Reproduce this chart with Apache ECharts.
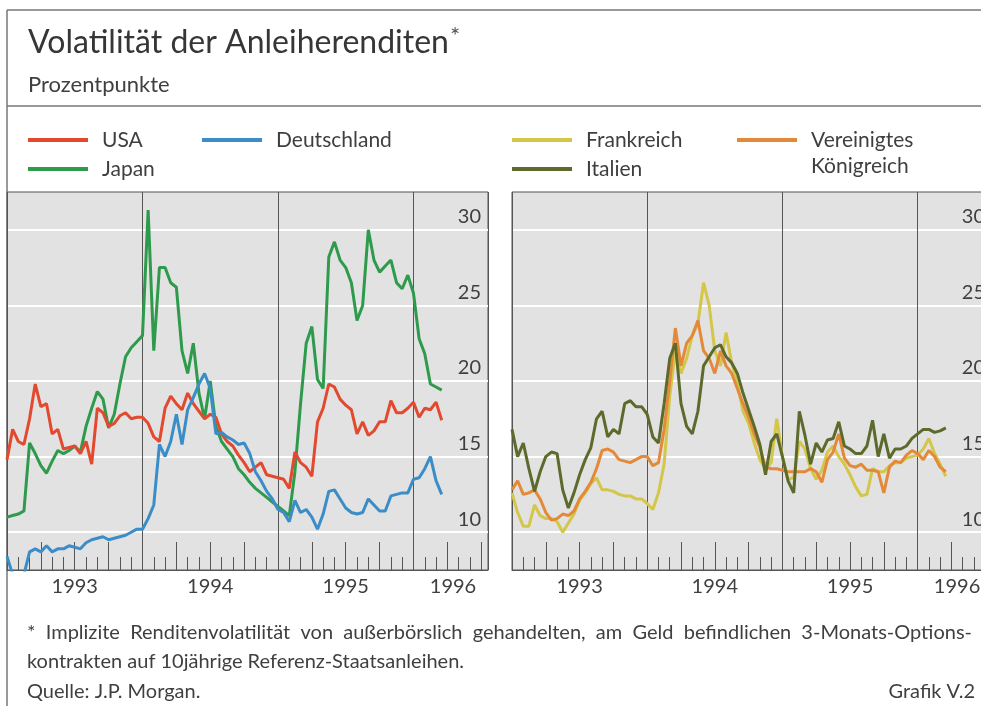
<!DOCTYPE html>
<html>
<head>
<meta charset="utf-8">
<title>Volatilität der Anleiherenditen</title>
<script src="https://cdn.jsdelivr.net/npm/echarts@6/dist/echarts.min.js"></script>
<style>
html, body { margin: 0; padding: 0; background: #fff; }
#chart { width: 981px; height: 706px; }
</style>
</head>
<body>
<div id="chart"></div>
<script>
// x: months since Jan 1993, half-month steps
const steps = [];
for (let i = 0; i < 78; i++) steps.push(i / 2);

const yearLabels = ["1993", "1994", "1995", "1996"];
const yearLabelPos = [6, 18, 30, 39.5];
const yTicks = [10, 15, 20, 25, 30];

// left panel
const usa = [
  14.8, 16.8, 16.0, 15.8, 17.5, 19.8, 18.3, 18.5, 16.5, 16.8,
  15.5, 15.6, 15.7, 15.2, 16.0, 14.5, 18.2, 17.9, 17.0, 17.2,
  17.7, 17.9, 17.5, 17.6, 17.6, 17.2, 16.3, 16.0, 18.2, 19.0,
  18.5, 18.1, 19.2, 18.5, 18.0, 17.5, 17.8, 17.6, 16.5, 16.0,
  15.7, 15.1, 14.6, 14.0, 14.3, 14.6, 13.8, 13.7, 13.6, 13.5,
  12.9, 15.3, 14.6, 14.3, 13.7, 17.3, 18.2, 19.8, 19.6, 18.8,
  18.4, 18.1, 16.5, 17.3, 16.4, 16.7, 17.3, 17.3, 18.7, 17.9,
  17.9, 18.2, 18.6, 17.6, 18.2, 18.1, 18.6, 17.4
];
const deutschland = [
  8.4, 7.2, 7.0, 7.2, 8.7, 8.9, 8.7, 9.1, 8.7, 8.9,
  8.9, 9.1, 9.0, 8.9, 9.3, 9.5, 9.6, 9.7, 9.5, 9.6,
  9.7, 9.8, 10.0, 10.2, 10.2, 10.9, 11.8, 15.8, 15.0, 16.0,
  17.8, 15.8, 18.1, 18.9, 19.8, 20.5, 19.5, 16.5, 16.6, 16.3,
  16.1, 15.8, 15.9, 15.2, 14.0, 13.4, 12.7, 12.2, 11.5, 11.3,
  10.7, 12.1, 11.3, 11.5, 11.0, 10.2, 11.2, 12.7, 12.8, 12.2,
  11.6, 11.3, 11.2, 11.3, 12.2, 11.8, 11.4, 11.4, 12.4, 12.5,
  12.6, 12.6, 13.5, 13.6, 14.2, 15.0, 13.4, 12.5
];
const japan = [
  11.0, 11.1, 11.2, 11.4, 15.9, 15.2, 14.4, 13.9, 14.7, 15.4,
  15.2, 15.4, 15.7, 15.3, 17.0, 18.2, 19.3, 18.8, 16.9, 17.8,
  19.8, 21.6, 22.2, 22.6, 23.0, 31.3, 22.0, 27.5, 27.5, 26.5,
  26.2, 22.0, 20.5, 22.5, 19.2, 17.5, 20.0, 17.0, 16.0, 15.5,
  15.0, 14.2, 13.8, 13.3, 12.9, 12.6, 12.3, 12.0, 11.7, 11.4,
  11.1, 14.0, 18.5, 22.5, 23.6, 20.1, 19.5, 28.2, 29.2, 28.0,
  27.5, 26.5, 24.0, 25.0, 30.0, 28.0, 27.2, 27.6, 28.0, 26.5,
  26.1, 27.0, 25.8, 22.8, 21.8, 19.8, 19.6, 19.4
];

// right panel
const frankreich = [
  12.6, 11.3, 10.4, 10.4, 11.8, 11.1, 10.9, 10.9, 10.7, 10.0,
  10.6, 11.2, 12.1, 12.6, 13.2, 13.6, 12.8, 12.8, 12.7, 12.5,
  12.4, 12.4, 12.2, 12.2, 11.9, 11.5, 12.6, 14.5, 19.0, 22.0,
  20.5, 21.5, 23.0, 23.8, 26.5, 25.0, 22.0, 21.0, 23.2, 21.2,
  19.8, 18.0, 17.2, 15.9, 14.8, 14.2, 14.6, 17.5, 15.0, 13.5,
  13.6, 16.0, 15.5, 14.2, 13.5, 14.1, 15.3, 15.7, 15.0, 14.5,
  13.8, 13.0, 12.4, 12.5, 14.2, 14.0, 14.0, 14.4, 14.6, 14.6,
  14.9, 15.0, 15.1, 15.5, 16.2, 15.2, 14.5, 13.7
];
const vereinigtesKoenigreich = [
  12.8, 13.4, 12.5, 12.6, 12.8, 12.2, 11.3, 10.8, 10.9, 11.2,
  11.1, 11.4, 12.2, 12.7, 13.3, 14.2, 15.4, 15.5, 15.3, 14.8,
  14.7, 14.6, 14.8, 15.0, 15.0, 14.4, 14.6, 16.8, 20.0, 23.5,
  21.0, 22.5, 23.0, 24.0, 22.0, 21.5, 20.5, 22.0, 21.0, 20.5,
  19.5, 18.5, 17.6, 16.5, 15.6, 14.3, 14.2, 14.2, 14.1, 14.0,
  14.0, 14.0, 14.0, 14.2, 14.0, 13.3, 14.8, 15.3, 16.5, 14.9,
  14.4, 14.3, 14.5, 14.1, 14.1, 14.0, 12.6, 14.3, 14.7, 14.6,
  15.1, 15.4, 15.2, 14.8, 15.4, 15.0, 14.3, 14.0
];
const italien = [
  16.8, 15.0, 15.9, 14.2, 12.7, 14.0, 15.0, 15.3, 15.2, 12.8,
  11.6, 12.6, 13.8, 14.8, 15.6, 17.5, 18.0, 16.3, 16.8, 16.5,
  18.5, 18.7, 18.3, 18.3, 17.8, 16.3, 15.9, 18.5, 21.5, 22.5,
  18.5, 17.0, 16.5, 18.0, 21.0, 21.6, 22.2, 22.4, 21.6, 21.2,
  20.5, 19.2, 18.1, 17.0, 15.8, 13.8, 16.0, 16.5, 15.0, 13.4,
  12.6, 18.0, 16.4, 14.5, 15.9, 15.3, 16.1, 16.2, 17.3, 15.7,
  15.5, 15.2, 15.2, 15.7, 17.4, 15.0, 16.5, 14.9, 15.5, 15.5,
  15.7, 16.2, 16.5, 16.8, 16.8, 16.6, 16.7, 16.9
];

const font = "Lato";
const textColor = "#3f3f3f";
const lineColor = "#555";

function pairs(values) {
  return values.map((v, i) => [steps[i], v]);
}

function xAxesFor(gi) {
  return [
    {
      // monthly ticks and year labels
      type: "value", gridIndex: gi, position: "bottom", min: 0, max: 42.6, interval: 1,
      axisLine: { show: true, onZero: false, lineStyle: { color: lineColor, width: 1 } },
      axisTick: { inside: true, length: 13, lineStyle: { color: lineColor, width: 1 } },
      axisLabel: {
        customValues: yearLabelPos,
        formatter: (v) => yearLabels[Math.floor(v / 12)],
        fontFamily: font, fontSize: 20, color: textColor, margin: 7,
      },
      splitLine: { show: false },
    },
    {
      // quarterly ticks
      type: "value", gridIndex: gi, position: "bottom", min: 0, max: 42.6, interval: 3,
      axisLine: { show: false },
      axisTick: { inside: true, length: 28, lineStyle: { color: lineColor, width: 1 } },
      axisLabel: { show: false },
      splitLine: { show: false },
    },
    {
      // year separators
      type: "value", gridIndex: gi, position: "bottom", min: 0, max: 42.6, interval: 12,
      axisLine: { show: false },
      axisTick: { show: false },
      axisLabel: { show: false },
      splitLine: { show: true, lineStyle: { color: lineColor, width: 1 } },
    },
  ];
}

function yAxisFor(gi) {
  return {
    type: "value", gridIndex: gi, position: "right", min: 7.5, max: 32.5,
    axisLine: { show: false },
    axisTick: { show: false, customValues: yTicks },
    axisLabel: {
      inside: true, customValues: yTicks, margin: 7, verticalAlign: "bottom",
      fontFamily: font, fontSize: 20, color: textColor, padding: [0, 0, 3, 0],
    },
    splitLine: { show: true, lineStyle: { color: "#ffffff", width: 2 } },
  };
}

function legendItem(name, left, top, lineHeight, formatter) {
  return {
    data: [name], left: left, top: top, padding: 0, orient: "horizontal",
    icon: "rect", itemWidth: 60, itemHeight: 4, selectedMode: false,
    formatter: formatter || "{name}",
    textStyle: { fontFamily: font, fontSize: 21, color: textColor, lineHeight: lineHeight, padding: [0, 0, 0, 9] },
  };
}

function lineSeries(name, values, color, gi) {
  return {
    name: name, type: "line", xAxisIndex: gi * 3, yAxisIndex: gi,
    data: pairs(values), showSymbol: false, symbol: "none",
    lineStyle: { color: color, width: 3 }, itemStyle: { color: color },
    clip: true,
  };
}

const chart = echarts.init(document.getElementById("chart"));
const option = {
  animation: false,
  backgroundColor: "#ffffff",
  title: [
    {
      text: "Volatilität der Anleiherenditen{s|*}", left: 28, top: 24, padding: 0,
      textStyle: {
        fontFamily: font, fontSize: 32, fontWeight: "normal", color: "#363636", lineHeight: 38,
        rich: { s: { fontFamily: font, fontSize: 24, color: "#555", verticalAlign: "top", lineHeight: 38, padding: [0, 0, 10, 1] } },
      },
    },
    {
      text: "Prozentpunkte", left: 28, top: 72, padding: 0,
      textStyle: { fontFamily: font, fontSize: 22, fontWeight: "normal", color: textColor, lineHeight: 26 },
    },
    {
      text: "*  Implizite  Renditenvolatilität  von  außerbörslich  gehandelten,  am  Geld  befindlichen  3-Monats-Options-\nkontrakten auf 10jährige Referenz-Staatsanleihen.",
      left: 27, top: 618, padding: 0,
      textStyle: { fontFamily: font, fontSize: 20, fontWeight: "normal", color: textColor, lineHeight: 29 },
    },
    {
      text: "Quelle: J.P. Morgan.", left: 27, top: 680, padding: 0,
      textStyle: { fontFamily: font, fontSize: 20, fontWeight: "normal", color: textColor, lineHeight: 24 },
    },
    {
      text: "Grafik V.2", right: 6, top: 680, padding: 0,
      textStyle: { fontFamily: font, fontSize: 20, fontWeight: "normal", color: textColor, lineHeight: 24 },
    },
  ],
  legend: [
    legendItem("USA", 28, 127, 26),
    legendItem("Japan", 28, 156, 26),
    legendItem("Deutschland", 202, 127, 26),
    legendItem("Frankreich", 512, 127, 26),
    legendItem("Italien", 512, 156, 26),
    legendItem("Vereinigtes Königreich", 737, 101, 26, () => "\nVereinigtes\nKönigreich"),
  ],
  grid: [
    {
      left: 7, right: 493, top: 192, bottom: 136, outerBoundsMode: "none",
      show: true, backgroundColor: "#e2e2e2", borderColor: lineColor, borderWidth: 1,
    },
    {
      left: 512, right: -11, top: 192, bottom: 136, outerBoundsMode: "none",
      show: true, backgroundColor: "#e2e2e2", borderColor: lineColor, borderWidth: 1,
    },
  ],
  xAxis: xAxesFor(0).concat(xAxesFor(1)),
  yAxis: [yAxisFor(0), yAxisFor(1)],
  graphic: [
    { type: "line", shape: { x1: 7, y1: 10, x2: 981, y2: 10 }, style: { stroke: "#777", lineWidth: 1.5 } },
    { type: "line", shape: { x1: 7, y1: 10, x2: 7, y2: 706 }, style: { stroke: "#777", lineWidth: 1.5 } },
    { type: "line", shape: { x1: 7, y1: 106, x2: 981, y2: 106 }, style: { stroke: "#777", lineWidth: 1.5 } },
  ],
  series: [
    lineSeries("Japan", japan, "#2e9a4c", 0),
    lineSeries("USA", usa, "#e2492f", 0),
    lineSeries("Deutschland", deutschland, "#3a8dc6", 0),
    lineSeries("Frankreich", frankreich, "#d3c648", 1),
    lineSeries("Vereinigtes Königreich", vereinigtesKoenigreich, "#e38a3a", 1),
    lineSeries("Italien", italien, "#5c6a2c", 1),
  ],
};
chart.setOption(option);
</script>
</body>
</html>
